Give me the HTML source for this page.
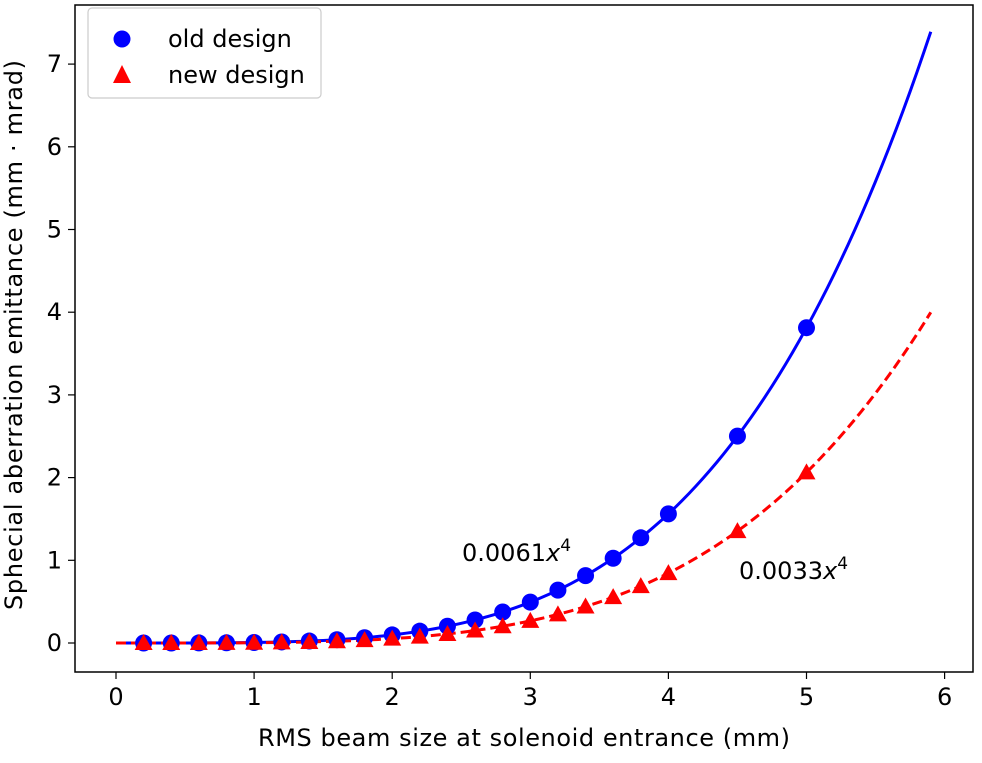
<!DOCTYPE html>
<html><head><meta charset="utf-8"><style>
body{margin:0;background:#fff}
svg text{font-family:"DejaVu Sans","Liberation Sans",sans-serif;fill:#000}
</style></head><body>
<svg id="s" width="982" height="758" xmlns="http://www.w3.org/2000/svg">
<rect x="0" y="0" width="982" height="758" fill="#fff"/>
<g id="plot"></g>
<rect x="75" y="5" width="898" height="667" fill="none" stroke="#000" stroke-width="1.5"/>
<g id="ticks" font-size="24"></g>
<text x="524" y="746" font-size="24" text-anchor="middle" textLength="532">RMS beam size at solenoid entrance (mm)</text>
<text transform="translate(22,335) rotate(-90)" font-size="24" text-anchor="middle" textLength="550">Sphecial aberration emittance (mm · mrad)</text>
<text x="462" y="561" font-size="24">0.0061<tspan font-style="italic">x</tspan><tspan dy="-10" font-size="17">4</tspan></text>
<text x="739" y="579" font-size="24">0.0033<tspan font-style="italic">x</tspan><tspan dy="-10" font-size="17">4</tspan></text>
<rect x="88" y="8" width="233" height="90" rx="4" fill="#fff" stroke="#ccc" stroke-width="1.2"/>
<circle cx="122" cy="39" r="8.5" fill="#0000ff"/>
<polygon points="122,65 131,83 113,83" fill="#ff0000"/>
<text x="168" y="47" font-size="24">old design</text>
<text x="168" y="83" font-size="24">new design</text>
</svg>
<script>
var X=function(v){return 116+v*138.1},Y=function(v){return 643-v*82.7};
var ns="http://www.w3.org/2000/svg",p=document.getElementById("plot"),t=document.getElementById("ticks");
function el(n,a,par){var e=document.createElementNS(ns,n);for(var k in a)e.setAttribute(k,a[k]);(par||p).appendChild(e);return e}
var a="",b="";for(var i=0;i<=118;i++){var x=i*0.05;a+=X(x)+","+Y(0.0061*x*x*x*x)+" ";b+=X(x)+","+Y(0.0033*x*x*x*x)+" ";}
el("polyline",{points:a,fill:"none",stroke:"#0000ff","stroke-width":3});
el("polyline",{points:b,fill:"none",stroke:"#ff0000","stroke-width":3,"stroke-dasharray":"10,5"});
var xs=[];for(var i=1;i<=20;i++)xs.push(i*0.2);xs.push(4.5,5);
xs.forEach(function(x){var cx=X(x);
el("circle",{cx:cx,cy:Y(0.0061*Math.pow(x,4)),r:8.5,fill:"#0000ff"});
var cy=Y(0.0033*Math.pow(x,4));el("polygon",{points:cx+","+(cy-9)+" "+(cx+9)+","+(cy+7)+" "+(cx-9)+","+(cy+7),fill:"#ff0000"});});
for(var i=0;i<=6;i++){el("line",{x1:X(i),x2:X(i),y1:672,y2:679,stroke:"#000","stroke-width":1.2},t);el("text",{x:X(i),y:705,"text-anchor":"middle"},t).textContent=i;}
for(var i=0;i<=7;i++){el("line",{x1:68,x2:75,y1:Y(i),y2:Y(i),stroke:"#000","stroke-width":1.2},t);el("text",{x:62,y:Y(i)+8,"text-anchor":"end"},t).textContent=i;}
</script>
</body></html>
